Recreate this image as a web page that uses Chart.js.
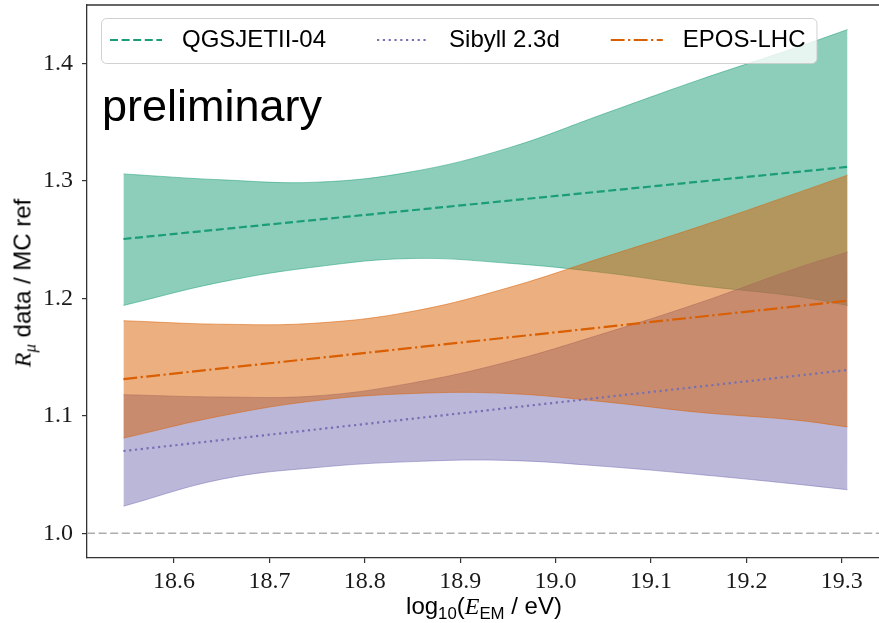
<!DOCTYPE html>
<html>
<head>
<meta charset="utf-8">
<script src="https://cdn.jsdelivr.net/npm/chart.js@4/dist/chart.umd.min.js"></script>
<style>
  html, body { margin: 0; padding: 0; background: #fff; overflow: hidden; }
  #wrap { position: relative; width: 879px; height: 623px; }
  #c { position: absolute; left: 0; top: 0; }
  .lab { position: absolute; white-space: nowrap; color: #000; font-family: 'Liberation Sans', Arial, sans-serif; }
  .lab .it { font-family: 'Liberation Serif', serif; font-style: italic; }
  .lab .sb { font-size: 0.7em; position: relative; top: 0.3em; }
  #xlab { left: 484px; top: 594px; font-size: 24px; line-height: 24px; transform: translateX(-50%); }
  #ylab { left: 24px; top: 283px; font-size: 24px; line-height: 24px; transform: translate(-50%, -50%) rotate(-90deg); }
  #prelim { left: 102px; top: 83px; font-size: 45px; line-height: 45px; }
</style>
</head>
<body>
<div id="wrap">
  <canvas id="c" width="879" height="623"></canvas>
  <div class="lab" id="xlab">log<span class="sb">10</span>(<span class="it">E</span><span class="sb">EM</span> / eV)</div>
  <div class="lab" id="ylab"><span class="it">R</span><span class="sb it">μ</span> data / MC ref</div>
  <div class="lab" id="prelim">preliminary</div>
</div>
<script>
// ---- data ----
const energyBand = [18.547, 18.65, 18.75, 18.85, 18.95, 19.05, 19.15, 19.25, 19.306];
const qgsUpper  = [1.306, 1.301, 1.299, 1.308, 1.328, 1.357, 1.386, 1.413, 1.429];
const qgsLower  = [1.194, 1.214, 1.227, 1.234, 1.230, 1.222, 1.211, 1.202, 1.194];
const sibUpper  = [1.118, 1.116, 1.117, 1.128, 1.146, 1.170, 1.196, 1.225, 1.2395];
const sibLower  = [1.023, 1.046, 1.056, 1.061, 1.062, 1.057, 1.050, 1.042, 1.037];
const eposUpper = [1.181, 1.178, 1.179, 1.189, 1.209, 1.235, 1.261, 1.289, 1.305];
const eposLower = [1.081, 1.100, 1.113, 1.119, 1.119, 1.112, 1.103, 1.0965, 1.0905];

const energyLine = [18.547, 19.306];
const qgsMean  = [1.2506, 1.312];
const sibMean  = [1.070, 1.139];
const eposMean = [1.1313, 1.198];

const modelLabels = ['QGSJETII-04', 'Sibyll 2.3d', 'EPOS-LHC'];
const xTicks = [18.6, 18.7, 18.8, 18.9, 19.0, 19.1, 19.2, 19.3];
const yTicks = [1.0, 1.1, 1.2, 1.3, 1.4];
const refLevel = 1.0;

const X_MIN = 18.5088, X_MAX = 19.339;
const Y_MIN = 0.97888, Y_MAX = 1.44991;

// ---- styles ----
const colQ = [27, 158, 119], colS = [117, 112, 179], colE = [217, 95, 2];
const rgba = (c, a) => `rgba(${c[0]},${c[1]},${c[2]},${a})`;
const pts = (xs, ys) => xs.map((x, i) => ({ x, y: ys[i] }));

function band(xs, lo, hi, col, order) {
  return [
    { data: pts(xs, lo), borderColor: rgba(col, 0.5), borderWidth: 1, fill: false, order,
      tension: 0.4, pointRadius: 0 },
    { data: pts(xs, hi), borderColor: rgba(col, 0.5), borderWidth: 1, backgroundColor: rgba(col, 0.5),
      fill: '-1', order, tension: 0.4, pointRadius: 0 }
  ];
}

const datasets = [
  ...band(energyBand, qgsLower, qgsUpper, colQ, 30),
  ...band(energyBand, sibLower, sibUpper, colS, 20),
  ...band(energyBand, eposLower, eposUpper, colE, 10),
  { label: modelLabels[0], showInLegend: true, data: pts(energyLine, qgsMean), borderColor: rgba(colQ, 1),
    borderWidth: 2.2, borderDash: [8, 3.6], fill: false, order: 0, pointRadius: 0 },
  { label: modelLabels[1], showInLegend: true, data: pts(energyLine, sibMean), borderColor: rgba(colS, 1),
    borderWidth: 2.2, borderDash: [2.2, 3.6], fill: false, order: 0, pointRadius: 0 },
  { label: modelLabels[2], showInLegend: true, data: pts(energyLine, eposMean), borderColor: rgba(colE, 1),
    borderWidth: 2.2, borderDash: [13.8, 3.5, 2.2, 3.5], fill: false, order: 0, pointRadius: 0 },
  { data: [{ x: X_MIN, y: refLevel }, { x: X_MAX, y: refLevel }], borderColor: '#adadad',
    borderWidth: 1.6, borderDash: [8, 3.6], fill: false, order: 40, pointRadius: 0 }
];

const framePlugin = {
  id: 'frameTop',
  afterDraw(chart) {
    const a = chart.chartArea, ctx = chart.ctx;
    ctx.save();
    ctx.strokeStyle = '#333';
    ctx.lineWidth = 1.3;
    ctx.beginPath();
    ctx.moveTo(a.left, a.top);
    ctx.lineTo(a.right, a.top);
    ctx.stroke();
    ctx.restore();
  }
};

const legendPlugin = {
  id: 'boxLegend',
  afterDatasetsDraw(chart) {
    const ctx = chart.ctx;
    const items = chart.data.datasets.filter(d => d.showInLegend);
    ctx.save();
    ctx.font = "24px 'Liberation Sans', Arial, sans-serif";
    const lineLen = 52, gap = 20, colGap = 51;
    let x = 110;
    const lay = items.map(d => {
      const w = ctx.measureText(d.label).width;
      const o = { d, x, tx: x + lineLen + gap, w };
      x = o.tx + w + colGap;
      return o;
    });
    const last = lay[lay.length - 1];
    const left = 101, top = 18, right = last.tx + last.w + 11, bottom = 63;
    ctx.beginPath();
    ctx.roundRect(left + 0.5, top + 0.5, right - left, bottom - top, 5);
    ctx.fillStyle = 'rgba(255,255,255,0.8)';
    ctx.fill();
    ctx.strokeStyle = 'rgba(204,204,204,0.9)';
    ctx.lineWidth = 1;
    ctx.stroke();
    lay.forEach(o => {
      ctx.beginPath();
      ctx.setLineDash(o.d.borderDash);
      ctx.lineWidth = o.d.borderWidth;
      ctx.strokeStyle = o.d.borderColor;
      ctx.moveTo(o.x, 40);
      ctx.lineTo(o.x + lineLen, 40);
      ctx.stroke();
      ctx.setLineDash([]);
      ctx.fillStyle = '#000';
      ctx.textBaseline = 'alphabetic';
      ctx.fillText(o.d.label, o.tx, 47);
    });
    ctx.restore();
  }
};

const tickFont = { family: "'Liberation Serif', serif", size: 24 };
const noPad = s => { s.paddingTop = 0; s.paddingBottom = 0; s.paddingLeft = 0; s.paddingRight = 0; };

new Chart(document.getElementById('c').getContext('2d'), {
  type: 'line',
  data: { datasets },
  options: {
    responsive: false,
    animation: false,
    events: [],
    layout: { padding: { top: 5, left: 0, right: 0, bottom: 0 } },
    plugins: { legend: { display: false }, tooltip: { enabled: false } },
    scales: {
      x: {
        type: 'linear', min: X_MIN, max: X_MAX,
        afterFit: s => { s.height = 65; noPad(s); },
        afterBuildTicks: s => { s.ticks = xTicks.map(v => ({ value: v })); },
        ticks: { font: tickFont, color: '#1a1a1a', padding: 4, maxRotation: 0, autoSkip: false,
                 callback: v => Number(v).toFixed(1) },
        grid: { display: true, drawOnChartArea: false, drawTicks: true, tickLength: 5, color: '#333', lineWidth: 1.2 },
        border: { display: true, color: '#333', width: 1.3 }
      },
      y: {
        type: 'linear', min: Y_MIN, max: Y_MAX,
        afterFit: s => { s.width = 87; noPad(s); },
        afterBuildTicks: s => { s.ticks = yTicks.map(v => ({ value: v })); },
        ticks: { font: tickFont, color: '#1a1a1a', padding: 9, autoSkip: false,
                 callback: v => Number(v).toFixed(1) },
        grid: { display: true, drawOnChartArea: false, drawTicks: true, tickLength: 5, color: '#333', lineWidth: 1.2 },
        border: { display: true, color: '#333', width: 1.3 }
      }
    }
  },
  plugins: [framePlugin, legendPlugin]
});
</script>
</body>
</html>
